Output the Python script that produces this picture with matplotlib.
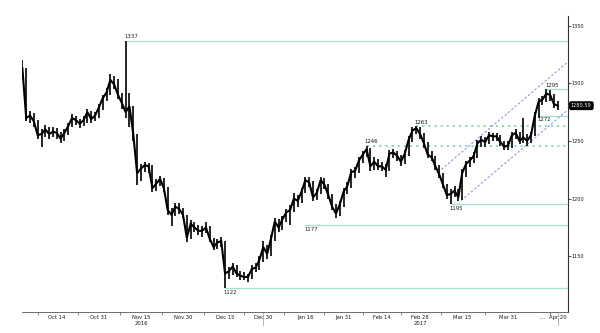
import matplotlib
matplotlib.use("Agg")
import matplotlib.pyplot as plt
import matplotlib.transforms as mtransforms
import numpy as np
import pandas as pd

# ---- data -------------------------------------------------------------
start_date = "2016-10-03"
end_date = "2017-04-20"
holidays = ["2016-12-26", "2017-01-02", "2017-04-14"]

close = [1313, 1270, 1272, 1267, 1255, 1256, 1260, 1256, 1258, 1257,
         1252, 1257, 1263, 1270, 1268, 1265, 1268, 1275, 1269, 1272,
         1279, 1287, 1292, 1303, 1299, 1290, 1283, 1275, 1280, 1256,
         1222, 1226, 1229, 1228, 1209, 1213, 1217, 1209, 1190, 1186,
         1193, 1191, 1186, 1166, 1178, 1175, 1172, 1172, 1175, 1165,
         1158, 1162, 1163, 1135, 1137, 1141, 1135, 1133, 1132, 1132,
         1139, 1140, 1147, 1158, 1152, 1165, 1180, 1175, 1182, 1188,
         1190, 1200, 1198, 1206, 1216, 1214, 1201, 1205, 1216, 1212,
         1203, 1193, 1187, 1195, 1206, 1211, 1223, 1224, 1233, 1238,
         1243, 1228, 1232, 1228, 1228, 1225, 1239, 1240, 1237, 1232,
         1239, 1251, 1259, 1261, 1256, 1248, 1238, 1236, 1228, 1221,
         1212, 1203, 1204, 1207, 1201, 1222, 1230, 1233, 1237, 1248,
         1251, 1249, 1255, 1254, 1254, 1249, 1245, 1246, 1255, 1257,
         1250, 1253, 1250, 1255, 1272, 1284, 1286, 1291, 1290, 1282,
         1280.59]

high = [1320, 1313, 1276, 1274, 1268, 1260, 1264, 1262, 1262, 1261,
        1258, 1260, 1266, 1273, 1272, 1269, 1272, 1278, 1276, 1275,
        1282, 1290, 1296, 1308, 1306, 1304, 1292, 1337, 1292, 1280,
        1256, 1230, 1232, 1231, 1229, 1217, 1220, 1218, 1210, 1192,
        1196, 1196, 1192, 1186, 1181, 1180, 1177, 1176, 1180, 1176,
        1166, 1165, 1167, 1163, 1141, 1144, 1142, 1137, 1136, 1135,
        1142, 1144, 1150, 1163, 1160, 1168, 1183, 1182, 1185, 1191,
        1194, 1205, 1203, 1209, 1219, 1219, 1215, 1208, 1219, 1218,
        1213, 1204, 1195, 1198, 1209, 1214, 1226, 1227, 1236, 1241,
        1246, 1244, 1236, 1234, 1232, 1230, 1242, 1243, 1241, 1238,
        1242, 1254, 1262, 1263, 1262, 1257, 1249, 1241, 1237, 1229,
        1222, 1213, 1208, 1211, 1208, 1226, 1233, 1236, 1240, 1251,
        1254, 1253, 1258, 1257, 1257, 1255, 1250, 1250, 1258, 1260,
        1258, 1270, 1256, 1258, 1275, 1287, 1289, 1295, 1294, 1291,
        1285]

low = [1309, 1267, 1266, 1262, 1252, 1245, 1253, 1252, 1253, 1252,
       1248, 1250, 1255, 1262, 1264, 1261, 1263, 1266, 1266, 1267,
       1270, 1277, 1285, 1290, 1295, 1286, 1278, 1270, 1262, 1250,
       1212, 1215, 1223, 1222, 1206, 1207, 1211, 1206, 1186, 1176,
       1185, 1187, 1183, 1162, 1165, 1171, 1168, 1167, 1170, 1162,
       1155, 1156, 1158, 1122, 1130, 1134, 1132, 1129, 1129, 1128,
       1130, 1136, 1138, 1145, 1148, 1150, 1163, 1171, 1173, 1180,
       1177, 1188, 1193, 1196, 1205, 1210, 1198, 1199, 1204, 1208,
       1200, 1190, 1183, 1185, 1193, 1204, 1209, 1218, 1222, 1231,
       1236, 1224, 1225, 1225, 1224, 1219, 1224, 1235, 1233, 1228,
       1230, 1237, 1249, 1256, 1252, 1244, 1235, 1233, 1225, 1218,
       1209, 1200, 1195, 1201, 1198, 1199, 1219, 1227, 1231, 1235,
       1245, 1245, 1247, 1250, 1250, 1246, 1242, 1242, 1244, 1252,
       1247, 1248, 1246, 1248, 1254, 1270, 1281, 1284, 1285, 1279,
       1277]

# support / resistance levels
solid_levels = [1337, 1122, 1177, 1195, 1272, 1295]
solid_level_from = ["2016-11-09", "2016-12-15", "2017-01-17", "2017-03-10", "2017-04-12", "2017-04-17"]
solid_label_above = [True, False, False, False, False, True]
dotted_levels = [1246, 1263]
dotted_level_from = ["2017-02-08", "2017-02-27"]

# trend channel: start date and values at start / right edge
upper_channel = ("2017-03-06", [1222.8, 1318.5])
lower_channel = ("2017-03-14", [1198.2, 1276.8])

tick_dates = ["2016-10-14", "2016-10-31", "2016-11-15", "2016-11-30", "2016-12-15",
              "2016-12-30", "2017-01-17", "2017-01-31", "2017-02-14", "2017-02-28",
              "2017-03-15", "2017-03-31", "2017-04-13", "2017-04-20"]
tick_labels = ["Oct 14", "Oct 31", "Nov 15\n2016", "Nov 30", "Dec 15", "Dec 30",
               "Jan 16", "Jan 31", "Feb 14", "Feb 28\n2017", "Mar 15", "Mar 31",
               "\u2026", "Apr 20"]
y_ticks = [1150, 1200, 1250, 1300, 1350]

# ---- trading-day axis ---------------------------------------------------
days = pd.bdate_range(start_date, end_date)
days = days[~days.isin(pd.to_datetime(holidays))]
x = np.arange(len(close))


def pos(d):
    return float(days.searchsorted(pd.Timestamp(d)))


x_right = 142.6

# ---- figure -------------------------------------------------------------
fig = plt.figure(figsize=(6, 3.33), dpi=100)
ax = fig.add_axes([22 / 600, 1 - 312 / 333, 545.7 / 600, 296 / 333])
ax.set_xlim(-0.1, x_right)
ax.set_ylim(1101.6, 1358.4)

level_color = "#a4e2cd"
dot_color = "#86d8b4"
chan_color = "#7d8fd6"
lab_fs = 3.9
text_color = "#1a1a1a"

for lv, d0, above in zip(solid_levels, solid_level_from, solid_label_above):
    x0 = pos(d0)
    ax.plot([x0, x_right], [lv, lv], color=level_color, lw=0.9, zorder=1)
    ax.text(x0 - 0.3, lv + (1.2 if above else -1.4), str(lv), fontsize=lab_fs,
            ha="left", va="bottom" if above else "top", color=text_color, zorder=4)

for lv, d0 in zip(dotted_levels, dotted_level_from):
    x0 = pos(d0)
    ax.plot([x0, x_right], [lv, lv], color=dot_color, lw=1.3,
            linestyle=(0, (1.2, 2.2)), zorder=1)
    ax.text(x0 - 0.5, lv + 1.2, str(lv), fontsize=lab_fs, ha="left", va="bottom",
            color=text_color, zorder=4)

for d0, v in (upper_channel, lower_channel):
    ax.plot([pos(d0) + 0.7, x_right], v, color=chan_color, lw=0.7,
            linestyle=(0, (2.5, 2.0)), zorder=1)

# price bars
ax.vlines(x, low, high, color="black", lw=1.2, zorder=3)
ax.plot(x, close, color="black", lw=1.5, zorder=3, solid_joinstyle="miter")

# axes styling
for side in ("left", "top"):
    ax.spines[side].set_visible(False)
ax.spines["bottom"].set_color("#555555")
ax.spines["bottom"].set_linewidth(0.6)
ax.spines["right"].set_color("#333333")
ax.spines["right"].set_linewidth(0.8)

tick_pos = [pos(d) for d in tick_dates]
ax.set_xticks(tick_pos)
ax.set_xticklabels(tick_labels)
ax.tick_params(axis="x", which="major", length=0, pad=2.2, labelsize=3.8,
               colors="#222222", labelcolor=text_color)
mids = [tick_pos[0] - 5] + [(a + b) / 2 for a, b in zip(tick_pos[:-1], tick_pos[1:])
                            if tick_labels[tick_pos.index(b)] != "\u2026"]
ax.set_xticks(mids, minor=True)
ax.tick_params(axis="x", which="minor", length=1.8, width=0.5, colors="#555555")

ax.yaxis.tick_right()
ax.set_yticks(y_ticks)
ax.set_yticklabels([str(t) for t in y_ticks])
ax.tick_params(axis="y", which="major", length=2, width=0.6, pad=1, labelsize=3.6,
               colors="#333333", labelcolor=text_color)

# markers under the axis
trans = mtransforms.blended_transform_factory(ax.transData, ax.transAxes)
for d in ("2016-12-30", "2017-04-20"):
    ax.plot([pos(d), pos(d)], [0, -0.045], transform=trans, color="#aaaaaa",
            lw=0.6, clip_on=False)

# last price tag
trans_r = mtransforms.blended_transform_factory(ax.transAxes, ax.transData)
ax.text(1.006, close[-1], f"{close[-1]:.2f}", transform=trans_r, fontsize=3.6,
        color="white", ha="left", va="center",
        bbox=dict(boxstyle="round,pad=0.25,rounding_size=0.3", fc="black", ec="black"))

fig.savefig("out.png", dpi=100, facecolor="white")
